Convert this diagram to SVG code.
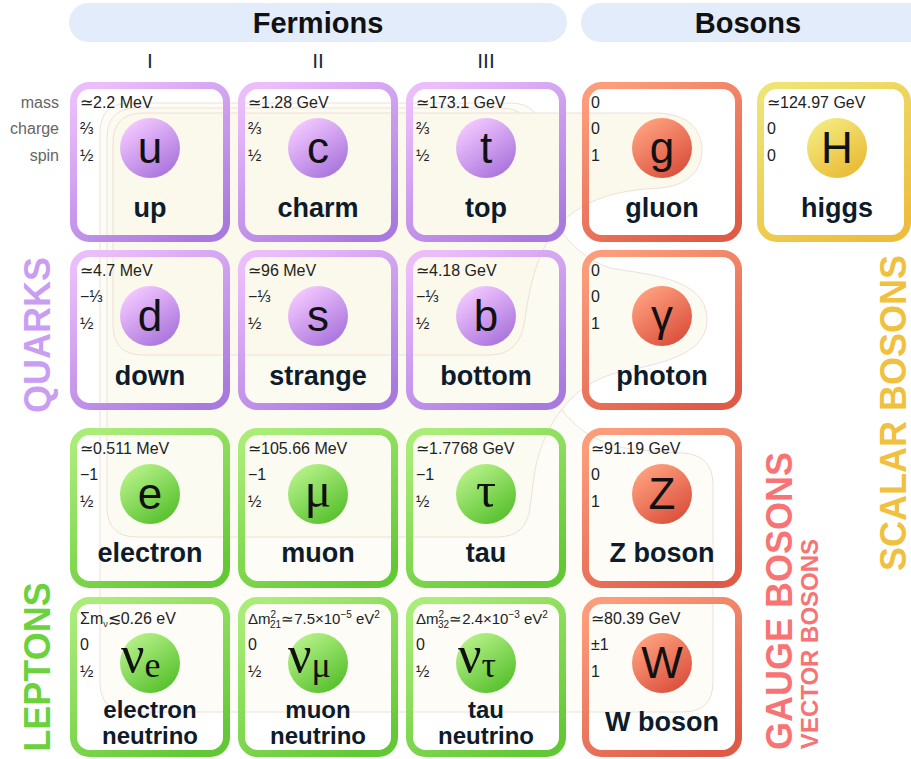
<svg xmlns="http://www.w3.org/2000/svg" width="911" height="759" viewBox="0 0 911 759">
<defs>
<linearGradient id="sq" x1="0.2" y1="0" x2="0.8" y2="1"><stop offset="0" stop-color="#ecbdfb"/><stop offset="1" stop-color="#a97ade"/></linearGradient>
<linearGradient id="sl" x1="0.2" y1="0" x2="0.8" y2="1"><stop offset="0" stop-color="#a9ec78"/><stop offset="1" stop-color="#62c834"/></linearGradient>
<linearGradient id="sb" x1="0.2" y1="0" x2="0.8" y2="1"><stop offset="0" stop-color="#fc9c7b"/><stop offset="1" stop-color="#df5a47"/></linearGradient>
<linearGradient id="sh" x1="0.2" y1="0" x2="0.8" y2="1"><stop offset="0" stop-color="#ede473"/><stop offset="1" stop-color="#eebd3b"/></linearGradient>
<linearGradient id="cq" x1="0.2" y1="0.1" x2="0.8" y2="0.95"><stop offset="0" stop-color="#f1c6ff"/><stop offset="1" stop-color="#a973dc"/></linearGradient>
<linearGradient id="cl" x1="0.2" y1="0.1" x2="0.8" y2="0.95"><stop offset="0" stop-color="#b3f086"/><stop offset="1" stop-color="#56c02c"/></linearGradient>
<linearGradient id="cb" x1="0.2" y1="0.1" x2="0.8" y2="0.95"><stop offset="0" stop-color="#fd9e7c"/><stop offset="1" stop-color="#db4f3c"/></linearGradient>
<linearGradient id="ch" x1="0.2" y1="0.1" x2="0.8" y2="0.95"><stop offset="0" stop-color="#f3e97c"/><stop offset="1" stop-color="#eab934"/></linearGradient>
</defs>
<style>
.card{fill:none;stroke-width:7}
.q{stroke:url(#sq)}.l{stroke:url(#sl)}.b{stroke:url(#sb)}.h{stroke:url(#sh)}
.p{font-family:"Liberation Sans",Arial,sans-serif;font-size:16px;fill:#222}
.lab{font-family:"Liberation Sans",Arial,sans-serif;font-size:16px;fill:#666;text-anchor:end}
.nm{font-family:"Liberation Sans",Arial,sans-serif;font-weight:bold;font-size:27px;fill:#0d1b2a;text-anchor:middle}
.nm2{font-family:"Liberation Sans",Arial,sans-serif;font-weight:bold;font-size:24px;fill:#0d1b2a;text-anchor:middle}
.sym{font-family:"Liberation Sans",Arial,sans-serif;font-size:44px;fill:#111;text-anchor:middle}
.gsym{font-family:"Liberation Serif","DejaVu Serif",serif;font-size:50px;fill:#111;text-anchor:middle}
.nu{font-family:"Liberation Serif","DejaVu Serif",serif;font-size:52px;fill:#111}
.hd{font-family:"Liberation Sans",Arial,sans-serif;font-weight:bold;font-size:29px;fill:#111;text-anchor:middle}
.gen{font-family:"Liberation Sans",Arial,sans-serif;font-size:21px;fill:#1a2a3a;text-anchor:middle}
.vt{font-family:"Liberation Sans",Arial,sans-serif;font-weight:bold;font-size:36px;text-anchor:middle}
.vs{font-family:"Liberation Sans",Arial,sans-serif;font-weight:bold;font-size:24px;text-anchor:middle}
.reg{stroke:#eee0d9;stroke-width:1}
</style>
<rect width="911" height="759" fill="#fff"/>
<g id="regions">
<path class="reg" fill="#fdfcf7" d="M100,133 Q100,103 130,103 L510,103 Q540,103 540,133 L540,330 C540,400 575,445 640,450 L683,453 Q713,455 713,485 L713,682 Q713,712 683,712 L130,712 Q100,712 100,682 Z"/>
<path class="reg" fill="#fcfbf2" d="M107,138 Q107,108 137,108 L500,108 Q532,108 533,140 L533,170 C540,210 570,255 610,268 C650,275 705,278 707,318 C708,352 670,362 620,372 C575,382 545,420 535,470 L530,507 Q527,537 497,537 L137,537 Q107,537 107,507 Z"/>
<path class="reg" fill="#fbf9eb" d="M113,143 Q113,113 143,113 L655,113 C688,113 702,130 702,150 C702,172 686,186 660,188 C615,190 585,200 562,222 C540,245 530,280 525,320 Q520,355 490,355 L143,355 Q113,355 113,325 Z"/>
</g>
<g id="headers">
<rect x="69" y="3" width="498" height="39" rx="19.5" fill="#e3ecfb"/>
<text class="hd" x="318" y="33">Fermions</text>
<rect x="581" y="3" width="360" height="39" rx="19.5" fill="#e3ecfb"/>
<text class="hd" x="748" y="33">Bosons</text>
<text class="gen" x="150" y="68">I</text>
<text class="gen" x="318" y="68">II</text>
<text class="gen" x="486" y="68">III</text>
</g>
<g id="rowlabels">
<text class="lab" x="59" y="108">mass</text>
<text class="lab" x="59" y="134">charge</text>
<text class="lab" x="59" y="161">spin</text>
</g>
<g id="up">
<rect class="card q" x="73.5" y="85.5" width="153" height="153" rx="16"/>
<circle cx="150" cy="148" r="30" fill="url(#cq)"/>
<text class="sym" x="150" y="163">u</text>
<text class="p" x="80" y="108">≃2.2 MeV</text><text class="p" x="80" y="134">⅔</text><text class="p" x="80" y="161">½</text>
<text class="nm" x="150" y="217">up</text>
</g>
<g id="charm">
<rect class="card q" x="241.5" y="85.5" width="153" height="153" rx="16"/>
<circle cx="318" cy="148" r="30" fill="url(#cq)"/>
<text class="sym" x="318" y="163">c</text>
<text class="p" x="248" y="108">≃1.28 GeV</text><text class="p" x="248" y="134">⅔</text><text class="p" x="248" y="161">½</text>
<text class="nm" x="318" y="217">charm</text>
</g>
<g id="top">
<rect class="card q" x="409.5" y="85.5" width="153" height="153" rx="16"/>
<circle cx="486" cy="148" r="30" fill="url(#cq)"/>
<text class="sym" x="486" y="163">t</text>
<text class="p" x="416" y="108">≃173.1 GeV</text><text class="p" x="416" y="134">⅔</text><text class="p" x="416" y="161">½</text>
<text class="nm" x="486" y="217">top</text>
</g>
<g id="gluon">
<rect class="card b" x="585.5" y="85.5" width="153" height="153" rx="16"/>
<circle cx="662" cy="148" r="30" fill="url(#cb)"/>
<text class="sym" x="662" y="163">g</text>
<text class="p" x="591" y="108">0</text><text class="p" x="591" y="134">0</text><text class="p" x="591" y="161">1</text>
<text class="nm" x="662" y="217">gluon</text>
</g>
<g id="higgs">
<rect class="card h" x="760.5" y="85.5" width="147" height="153" rx="16"/>
<circle cx="837" cy="148" r="30" fill="url(#ch)"/>
<text class="sym" x="837" y="163">H</text>
<text class="p" x="767" y="108">≃124.97 GeV</text><text class="p" x="767" y="134">0</text><text class="p" x="767" y="161">0</text>
<text class="nm" x="837" y="217">higgs</text>
</g>
<g id="down">
<rect class="card q" x="73.5" y="253.5" width="153" height="153" rx="16"/>
<circle cx="150" cy="316" r="30" fill="url(#cq)"/>
<text class="sym" x="150" y="331">d</text>
<text class="p" x="80" y="276">≃4.7 MeV</text><text class="p" x="80" y="302">−⅓</text><text class="p" x="80" y="329">½</text>
<text class="nm" x="150" y="385">down</text>
</g>
<g id="strange">
<rect class="card q" x="241.5" y="253.5" width="153" height="153" rx="16"/>
<circle cx="318" cy="316" r="30" fill="url(#cq)"/>
<text class="sym" x="318" y="331">s</text>
<text class="p" x="248" y="276">≃96 MeV</text><text class="p" x="248" y="302">−⅓</text><text class="p" x="248" y="329">½</text>
<text class="nm" x="318" y="385">strange</text>
</g>
<g id="bottom">
<rect class="card q" x="409.5" y="253.5" width="153" height="153" rx="16"/>
<circle cx="486" cy="316" r="30" fill="url(#cq)"/>
<text class="sym" x="486" y="331">b</text>
<text class="p" x="416" y="276">≃4.18 GeV</text><text class="p" x="416" y="302">−⅓</text><text class="p" x="416" y="329">½</text>
<text class="nm" x="486" y="385">bottom</text>
</g>
<g id="photon">
<rect class="card b" x="585.5" y="253.5" width="153" height="153" rx="16"/>
<circle cx="662" cy="316" r="30" fill="url(#cb)"/>
<text class="sym" x="662" y="331">γ</text>
<text class="p" x="591" y="276">0</text><text class="p" x="591" y="302">0</text><text class="p" x="591" y="329">1</text>
<text class="nm" x="662" y="385">photon</text>
</g>
<g id="electron">
<rect class="card l" x="73.5" y="431.5" width="153" height="153" rx="16"/>
<circle cx="150" cy="494" r="30" fill="url(#cl)"/>
<text class="sym" x="150" y="509">e</text>
<text class="p" x="80" y="454">≃0.511 MeV</text><text class="p" x="80" y="480">−1</text><text class="p" x="80" y="507">½</text>
<text class="nm" x="150" y="562">electron</text>
</g>
<g id="muon">
<rect class="card l" x="241.5" y="431.5" width="153" height="153" rx="16"/>
<circle cx="318" cy="494" r="30" fill="url(#cl)"/>
<text class="gsym" x="318" y="507">μ</text>
<text class="p" x="248" y="454">≃105.66 MeV</text><text class="p" x="248" y="480">−1</text><text class="p" x="248" y="507">½</text>
<text class="nm" x="318" y="562">muon</text>
</g>
<g id="tau">
<rect class="card l" x="409.5" y="431.5" width="153" height="153" rx="16"/>
<circle cx="486" cy="494" r="30" fill="url(#cl)"/>
<text class="gsym" x="486" y="507">τ</text>
<text class="p" x="416" y="454">≃1.7768 GeV</text><text class="p" x="416" y="480">−1</text><text class="p" x="416" y="507">½</text>
<text class="nm" x="486" y="562">tau</text>
</g>
<g id="zboson">
<rect class="card b" x="585.5" y="431.5" width="153" height="153" rx="16"/>
<circle cx="662" cy="494" r="30" fill="url(#cb)"/>
<text class="sym" x="662" y="509">Z</text>
<text class="p" x="591" y="454">≃91.19 GeV</text><text class="p" x="591" y="480">0</text><text class="p" x="591" y="507">1</text>
<text class="nm" x="662" y="562">Z boson</text>
</g>
<g id="electron-neutrino">
<rect class="card l" x="73.5" y="600.5" width="153" height="153" rx="16"/>
<circle cx="150" cy="663" r="30" fill="url(#cl)"/>
<text class="nu" x="121" y="672">ν<tspan font-size="36" dy="5">e</tspan></text>
<text class="p" x="80" y="624">Σm<tspan font-size="9" dy="3">ν</tspan><tspan dy="-3">≲0.26 eV</tspan></text>
<text class="p" x="80" y="650">0</text><text class="p" x="80" y="677">½</text>
<text class="nm2" x="150" y="718">electron</text>
<text class="nm2" x="150" y="744">neutrino</text>
</g>
<g id="muon-neutrino">
<rect class="card l" x="241.5" y="600.5" width="153" height="153" rx="16"/>
<circle cx="318" cy="663" r="30" fill="url(#cl)"/>
<text class="nu" x="288" y="672">ν<tspan font-size="36" dy="5">μ</tspan></text>
<text class="p" x="248" y="624" style="font-size:15px">Δm<tspan font-size="10" dy="-6">2</tspan><tspan font-size="10" x="270" dy="10">21</tspan><tspan dy="-4">≃7.5×10</tspan><tspan font-size="10" dy="-6">−5</tspan><tspan dy="6"> eV</tspan><tspan font-size="10" dy="-6">2</tspan></text>
<text class="p" x="248" y="650">0</text><text class="p" x="248" y="677">½</text>
<text class="nm2" x="318" y="718">muon</text>
<text class="nm2" x="318" y="744">neutrino</text>
</g>
<g id="tau-neutrino">
<rect class="card l" x="409.5" y="600.5" width="153" height="153" rx="16"/>
<circle cx="486" cy="663" r="30" fill="url(#cl)"/>
<text class="nu" x="458" y="672">ν<tspan font-size="36" dy="5">τ</tspan></text>
<text class="p" x="416" y="624" style="font-size:15px">Δm<tspan font-size="10" dy="-6">2</tspan><tspan font-size="10" x="438" dy="10">32</tspan><tspan dy="-4">≃2.4×10</tspan><tspan font-size="10" dy="-6">−3</tspan><tspan dy="6"> eV</tspan><tspan font-size="10" dy="-6">2</tspan></text>
<text class="p" x="416" y="650">0</text><text class="p" x="416" y="677">½</text>
<text class="nm2" x="486" y="718">tau</text>
<text class="nm2" x="486" y="744">neutrino</text>
</g>
<g id="wboson">
<rect class="card b" x="585.5" y="600.5" width="153" height="153" rx="16"/>
<circle cx="662" cy="663" r="30" fill="url(#cb)"/>
<text class="sym" x="662" y="678">W</text>
<text class="p" x="591" y="624">≃80.39 GeV</text><text class="p" x="591" y="650">±1</text><text class="p" x="591" y="677">1</text>
<text class="nm" x="662" y="731">W boson</text>
</g>
<g id="group-labels">
<text class="vt" fill="#c99ef2" transform="translate(50,335) rotate(-90)">QUARKS</text>
<text class="vt" fill="#6bd13c" transform="translate(50,667) rotate(-90)">LEPTONS</text>
<text class="vt" fill="#f87474" transform="translate(792,601) rotate(-90)">GAUGE BOSONS</text>
<text class="vs" fill="#f87474" transform="translate(818,644) rotate(-90)">VECTOR BOSONS</text>
<text class="vt" fill="#efc13e" transform="translate(906,413) rotate(-90)">SCALAR BOSONS</text>
</g>
<g id="connectors"></g>
</svg>
